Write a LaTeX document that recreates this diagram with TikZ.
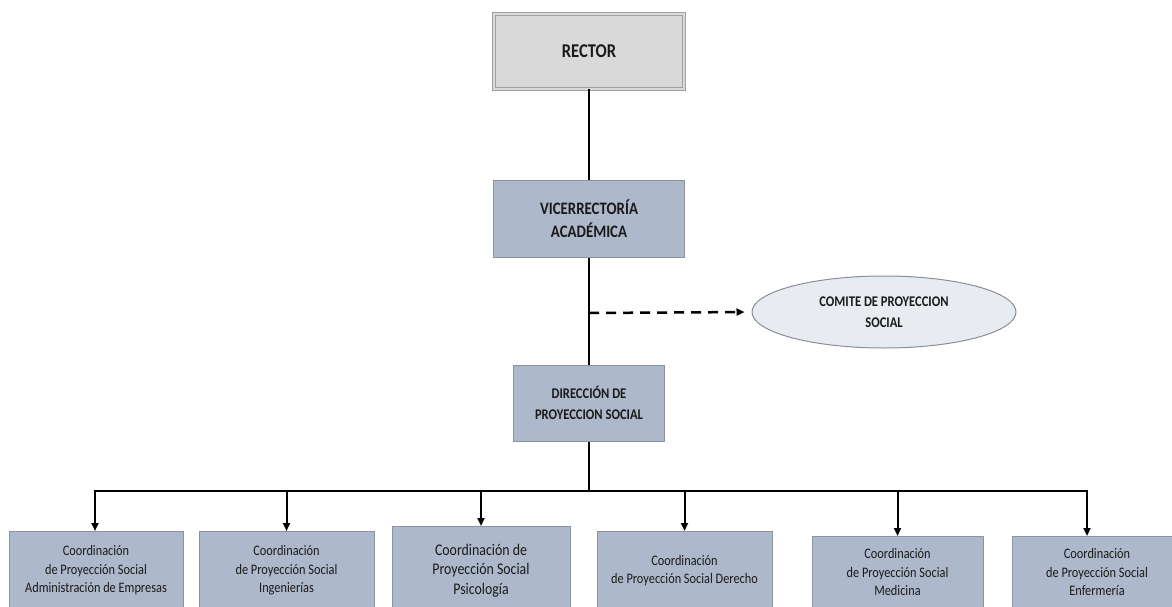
\documentclass[tikz,border=0pt]{standalone}
\usepackage{fontspec}
\setmainfont{Carlito}[FakeStretch=0.85]
\usetikzlibrary{arrows.meta,shapes.geometric}
\definecolor{boxfill}{HTML}{ADB9CA}
\definecolor{boxline}{HTML}{8A939F}
\definecolor{rectfill}{HTML}{D9D9D9}
\definecolor{rectline}{HTML}{A0A0A0}
\definecolor{ellfill}{HTML}{E8EBF0}
\definecolor{ellline}{HTML}{8A8F96}
\definecolor{txt}{HTML}{1A1A1A}
\begin{document}
\begin{tikzpicture}[x=1pt,y=-1pt,
  conn/.style={line width=2pt,draw=black},
  arr/.style={conn,-{Triangle[length=8pt,width=7pt]}},
  bluebox/.style={draw=boxline,line width=1pt,fill=boxfill,align=center,inner sep=0pt,text=txt},
  topbox/.style={draw=rectline,line width=1pt,double=rectfill,double distance=2.5pt,fill=rectfill,inner sep=0pt,text=txt},
  coordbox/.style={bluebox,anchor=north,font=\fontsize{14.5}{18.5}\selectfont},
  ell/.style={ellipse,draw=ellline,line width=1pt,fill=ellfill,align=center,inner sep=0pt,text=txt}
]
\useasboundingbox (0,0) rectangle (1172,607);

\node[topbox,minimum width=190pt,minimum height=75pt,font=\fontsize{19.5}{22}\selectfont\bfseries] (rector) at (589,51.5) {RECTOR};
\node[bluebox,minimum width=191pt,minimum height=77pt,font=\fontsize{17.5}{23}\selectfont\bfseries] (vic) at (589,218.5) {VICERRECTORÍA\\ACADÉMICA};
\node[bluebox,minimum width=151pt,minimum height=76pt,font=\fontsize{14.8}{21}\selectfont\bfseries] (dir) at (589,403) {DIRECCIÓN DE\\PROYECCION SOCIAL};
\node[ell,minimum width=264pt,minimum height=72pt,font=\fontsize{14.8}{21}\selectfont\bfseries] (com) at (884,312) {COMITE DE PROYECCION\\SOCIAL};

\node[coordbox,minimum width=174pt,minimum height=78pt] (b1) at (96,531) {Coordinación\\de Proyección Social\\Administración de Empresas};
\node[coordbox,minimum width=175pt,minimum height=78pt] (b2) at (286.5,531) {Coordinación\\de Proyección Social\\Ingenierías};
\node[coordbox,minimum width=178pt,minimum height=88pt,font=\fontsize{16.3}{19.5}\selectfont] (b3) at (481,526) {Coordinación de\\Proyección Social\\Psicología};
\node[coordbox,minimum width=175pt,minimum height=78pt,font=\fontsize{14.5}{18}\selectfont] (b4) at (684.5,531) {Coordinación\\de Proyección Social Derecho};
\node[coordbox,minimum width=171pt,minimum height=72pt] (b5) at (897.5,536) {Coordinación\\de Proyección Social\\Medicina};
\node[coordbox,minimum width=170pt,minimum height=72pt] (b6) at (1097,536) {Coordinación\\de Proyección Social\\Enfermería};

\coordinate (tap) at (589,313);
\coordinate (bar) at (589,491);
\coordinate (barL) at (95,491);
\coordinate (barR) at (1087,491);

\draw[conn] (rector.south) -- (vic.north);
\draw[conn] (vic.south) -- (dir.north);
\draw[arr,line width=2.5pt,dash pattern=on 10pt off 7pt,shorten >=7pt] (tap) -- (com.west);
\draw[conn] (dir.south) -- (bar);
\draw[conn,line cap=rect] (barL) -- (barR);
\draw[arr] (barL) -- (barL |- b1.north);
\draw[arr] (b2.north |- bar) -- (b2.north);
\draw[arr] (b3.north |- bar) -- (b3.north);
\draw[arr] (b4.north |- bar) -- (b4.north);
\draw[arr] (b5.north |- bar) -- (b5.north);
\draw[arr] (barR) -- (barR |- b6.north);
\end{tikzpicture}
\end{document}
